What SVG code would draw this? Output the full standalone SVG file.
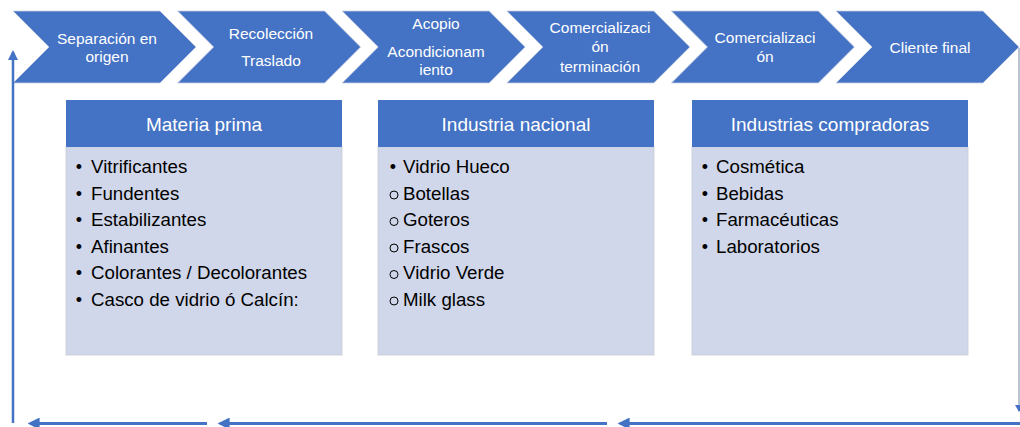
<svg xmlns="http://www.w3.org/2000/svg" width="1020" height="427" viewBox="0 0 1020 427">
<defs>
<style>
.chev{fill:#4472C4;stroke:#c9d1e3;stroke-width:0.8}
.ct{fill:#ffffff;font-family:"Liberation Sans",Arial,sans-serif;font-size:15.5px;text-anchor:middle}
.hd{fill:#4472C4}
.bd{fill:#D0D7EA;stroke:#c5cbd8;stroke-width:0.8}
.ht{fill:#ffffff;font-family:"Liberation Sans",Arial,sans-serif;font-size:19px;text-anchor:middle}
.it{fill:#000000;font-family:"Liberation Sans",Arial,sans-serif;font-size:18.7px}
.bl{fill:#000000;font-family:"Liberation Sans",Arial,sans-serif;font-size:18px;text-anchor:middle}
.ob{fill:none;stroke:#000;stroke-width:1}
.ln{stroke:#4472C4;stroke-width:3;fill:none}
</style>
<marker id="ah" markerWidth="4" markerHeight="4" refX="3.2" refY="2" orient="auto" markerUnits="strokeWidth">
<path d="M0,0 L4,2 L0,4 Z" fill="#4472C4"/>
</marker>
<marker id="ahs" markerWidth="8" markerHeight="8" refX="6" refY="4" orient="auto" markerUnits="userSpaceOnUse">
<path d="M0,0 L7,4 L0,8 Z" fill="#4472C4"/>
</marker>
</defs>
<rect width="1020" height="427" fill="#ffffff"/>

<g id="chevrons">
<g id="step1"><polygon class="chev" points="13,11 160,11 196,47 160,83 13,83 49,47"/>
<text class="ct" x="107" y="44">Separación en</text><text class="ct" x="107" y="62">origen</text></g>
<g id="step2"><polygon class="chev" points="177.6,11 324.6,11 360.6,47 324.6,83 177.6,83 213.6,47"/>
<text class="ct" x="271" y="39">Recolección</text><text class="ct" x="271" y="66">Traslado</text></g>
<g id="step3"><polygon class="chev" points="342.2,11 489.2,11 525.2,47 489.2,83 342.2,83 378.2,47"/>
<text class="ct" x="436" y="29">Acopio</text><text class="ct" x="436" y="57">Acondicionam</text><text class="ct" x="436" y="75">iento</text></g>
<g id="step4"><polygon class="chev" points="506.8,11 653.8,11 689.8,47 653.8,83 506.8,83 542.8,47"/>
<text class="ct" x="600" y="33">Comercializaci</text><text class="ct" x="600" y="52">ón</text><text class="ct" x="600" y="72">terminación</text></g>
<g id="step5"><polygon class="chev" points="671.4,11 818.4,11 854.4,47 818.4,83 671.4,83 707.4,47"/>
<text class="ct" x="765" y="43">Comercializaci</text><text class="ct" x="765" y="62">ón</text></g>
<g id="step6"><polygon class="chev" points="836,11 983,11 1019,47 983,83 836,83 872,47"/>
<text class="ct" x="930" y="53">Cliente final</text></g>
</g>

<g id="box-materia">
<rect class="bd" x="66" y="147" width="276" height="208"/>
<rect class="hd" x="66" y="100" width="276" height="47"/>
<text class="ht" x="204" y="131">Materia prima</text>
<text class="bl" x="79" y="173">•</text><text class="it" x="91" y="173">Vitrificantes</text>
<text class="bl" x="79" y="199.5">•</text><text class="it" x="91" y="199.5">Fundentes</text>
<text class="bl" x="79" y="226">•</text><text class="it" x="91" y="226">Estabilizantes</text>
<text class="bl" x="79" y="252.5">•</text><text class="it" x="91" y="252.5">Afinantes</text>
<text class="bl" x="79" y="279">•</text><text class="it" x="91" y="279">Colorantes / Decolorantes</text>
<text class="bl" x="79" y="305.5">•</text><text class="it" x="91" y="305.5">Casco de vidrio ó Calcín:</text>
</g>

<g id="box-nacional">
<rect class="bd" x="378" y="147" width="276" height="208"/>
<rect class="hd" x="378" y="100" width="276" height="47"/>
<text class="ht" x="516" y="131">Industria nacional</text>
<text class="bl" x="393" y="173">•</text><text class="it" x="403" y="173">Vidrio Hueco</text>
<circle class="ob" cx="394" cy="195" r="4"/><text class="it" x="403" y="199.5">Botellas</text>
<circle class="ob" cx="394" cy="221.5" r="4"/><text class="it" x="403" y="226">Goteros</text>
<circle class="ob" cx="394" cy="248" r="4"/><text class="it" x="403" y="252.5">Frascos</text>
<circle class="ob" cx="394" cy="274.5" r="4"/><text class="it" x="403" y="279">Vidrio Verde</text>
<circle class="ob" cx="394" cy="301" r="4"/><text class="it" x="403" y="305.5">Milk glass</text>
</g>

<g id="box-compradoras">
<rect class="bd" x="692" y="147" width="276" height="208"/>
<rect class="hd" x="692" y="100" width="276" height="47"/>
<text class="ht" x="830" y="131">Industrias compradoras</text>
<text class="bl" x="705" y="173">•</text><text class="it" x="716" y="173">Cosmética</text>
<text class="bl" x="705" y="199.5">•</text><text class="it" x="716" y="199.5">Bebidas</text>
<text class="bl" x="705" y="226">•</text><text class="it" x="716" y="226">Farmacéuticas</text>
<text class="bl" x="705" y="252.5">•</text><text class="it" x="716" y="252.5">Laboratorios</text>
</g>

<g id="connectors">
<line x1="1019" y1="48" x2="1019" y2="411" stroke="#8e9cb5" stroke-width="1.2" marker-end="url(#ahs)"/>
<line class="ln" x1="1020" y1="423.5" x2="620" y2="423.5" marker-end="url(#ah)"/>
<line class="ln" x1="607" y1="423.5" x2="220" y2="423.5" marker-end="url(#ah)"/>
<line class="ln" x1="207" y1="423.5" x2="30" y2="423.5" marker-end="url(#ah)"/>
<line x1="13" y1="423" x2="13" y2="52" stroke="#4472C4" stroke-width="2.5" marker-end="url(#ah)"/>
</g>
</svg>
